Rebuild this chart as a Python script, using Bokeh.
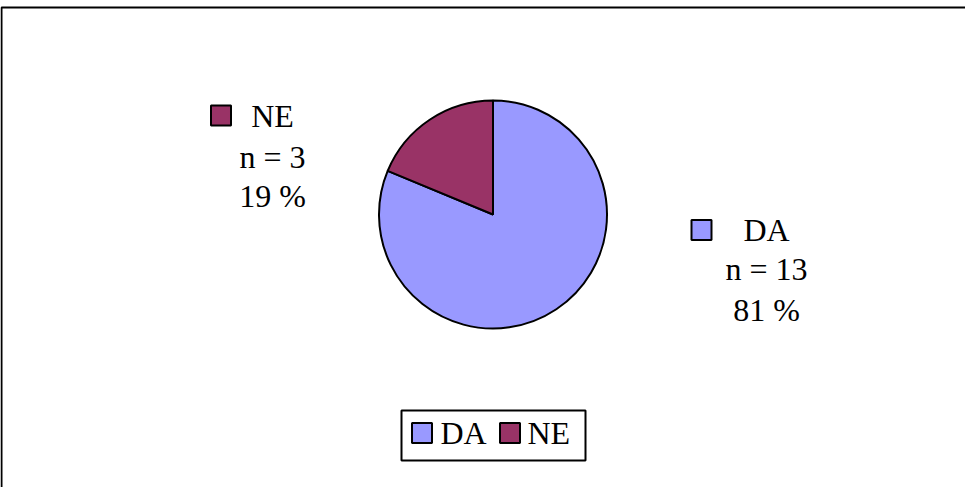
import math
from bokeh.plotting import figure
from bokeh.models import Range1d, ColumnDataSource
from bokeh.embed import file_html
from bokeh.resources import INLINE
from bokeh.core.properties import value

# ---- data ----
categories = ["DA", "NE"]
counts = [13, 3]
percent_labels = ["81 %", "19 %"]
colors = ["#9999FF", "#993366"]

# ---- layout ----
W, H = 965, 487
PAGE_H = 495


def Y(py):
    return PAGE_H - py


FONT = value("Liberation Serif")
FSIZE = value("32px")
CAP_MID = 11  # baseline -> middle of capital letters

p = figure(width=W, height=H, x_range=Range1d(8, 8 + W), y_range=Range1d(0, H),
           output_backend="svg", toolbar_location=None, min_border=0)
p.axis.visible = False
p.grid.visible = False
p.outline_line_color = None

# outer chart border (top and left visible)
p.line(x=[9, 9, 1000], y=[Y(520), Y(15), Y(15)], line_color="black", line_width=2)

# pie
cx, cy, R = 500.5, 222, 114
total = sum(counts)
starts, ends = [], []
a = math.pi / 2
for c in counts:
    sweep = 2 * math.pi * c / total
    ends.append(a)
    starts.append(a - sweep)
    a -= sweep
pie_src = ColumnDataSource(dict(start=starts, end=ends, color=colors, cat=categories))
p.wedge(x=cx, y=Y(cy), radius=R, start_angle="start", end_angle="end",
        fill_color="color", line_color="black", line_width=2, source=pie_src)

# data labels with legend key
label_cx = [774, 280]
label_base = [[248, 287, 328], [134, 175, 214]]
key_c = [(709, 237.5), (228.5, 123)]
for i, cat in enumerate(categories):
    lines = [cat, "n = %d" % counts[i], percent_labels[i]]
    p.text(x=[label_cx[i]] * 3, y=[Y(b - CAP_MID) for b in label_base[i]], text=lines,
           text_font=FONT, text_font_size=FSIZE, text_align="center",
           text_baseline="middle", text_color="black")
    kx, ky = key_c[i]
    p.rect(x=[kx], y=[Y(ky)], width=20, height=20, fill_color=colors[i],
           line_color="black", line_width=2)

# legend box
p.quad(left=[409], right=[593], top=[Y(418)], bottom=[Y(468)], fill_color="white",
       line_color="black", line_width=2)
leg_key_x = [429.5, 517.5]
leg_text_x = [448, 535]
p.rect(x=leg_key_x, y=[Y(440.5)] * 2, width=20, height=20, fill_color=colors,
       line_color="black", line_width=2)
p.text(x=leg_text_x, y=[Y(451 - CAP_MID)] * 2, text=categories, text_font=FONT,
       text_font_size=FSIZE, text_align="left", text_baseline="middle",
       text_color="black")

open("out.html", "w").write(file_html(p, INLINE))
